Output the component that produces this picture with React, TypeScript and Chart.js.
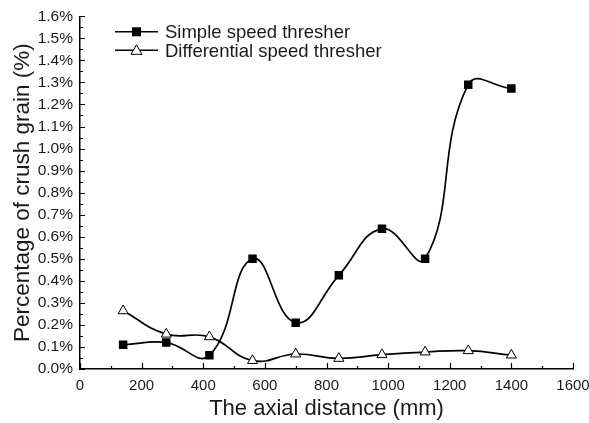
import React, { useEffect, useRef } from "react";
import { Chart, registerables } from "chart.js";

Chart.register(...registerables);

const distances = [140, 280, 420, 560, 700, 840, 980, 1120, 1260, 1400];
const simpleSpeed = [0.11, 0.12, 0.062, 0.5, 0.21, 0.425, 0.636, 0.5, 1.29, 1.272];
const differentialSpeed = [0.264, 0.158, 0.146, 0.038, 0.068, 0.048, 0.065, 0.077, 0.083, 0.063];
const seriesNames = ["Simple speed thresher", "Differential speed thresher"];
const xTitle = "The axial distance (mm)";
const yTitle = "Percentage of crush grain (%)";

const FONT = '"Liberation Sans", Arial, sans-serif';
const TEXT = "#1a1a1a";

const innerTicks = {
  id: "innerTicks",
  afterDraw(chart: any) {
    const ctx = chart.ctx;
    const xs = chart.scales.x;
    const ys = chart.scales.y;
    const area = chart.chartArea;
    ctx.save();
    ctx.strokeStyle = "#000";
    ctx.lineWidth = 1.2;
    ctx.beginPath();
    for (let v = 0; v <= 1600; v += 100) {
      const px = Math.round(xs.getPixelForValue(v)) + 0.5;
      const len = v % 200 === 0 ? 6 : 3;
      ctx.moveTo(px, area.bottom);
      ctx.lineTo(px, area.bottom - len);
    }
    for (let i = 0; i <= 32; i++) {
      const v = i * 0.05;
      const py = Math.round(ys.getPixelForValue(v)) + 0.5;
      const len = i % 2 === 0 ? 5 : 3;
      ctx.moveTo(area.left, py);
      ctx.lineTo(area.left + len, py);
    }
    ctx.stroke();
    ctx.restore();
  },
};

const lineLegend = {
  id: "lineLegend",
  afterDraw(chart: any) {
    const ctx = chart.ctx;
    const area = chart.chartArea;
    const x0 = area.left + 35;
    const x1 = area.left + 78;
    const rows = [area.top + 15.5, area.top + 34];
    ctx.save();
    ctx.font = "18.5px " + FONT;
    ctx.textBaseline = "middle";
    rows.forEach((y, i) => {
      ctx.strokeStyle = "#000";
      ctx.lineWidth = 1.5;
      ctx.beginPath();
      ctx.moveTo(x0, y);
      ctx.lineTo(x1, y);
      ctx.stroke();
      const cx = (x0 + x1) / 2;
      if (i === 0) {
        ctx.fillStyle = "#000";
        ctx.fillRect(cx - 4.5, y - 4.5, 9, 9);
      } else {
        ctx.fillStyle = "#fff";
        ctx.beginPath();
        ctx.moveTo(cx, y - 5.5);
        ctx.lineTo(cx + 5.5, y + 4);
        ctx.lineTo(cx - 5.5, y + 4);
        ctx.closePath();
        ctx.fill();
        ctx.lineWidth = 1;
        ctx.stroke();
      }
      ctx.fillStyle = TEXT;
      ctx.fillText(seriesNames[i], x1 + 7, y + 1.5);
    });
    ctx.restore();
  },
};

export default function App() {
  const ref = useRef<HTMLCanvasElement | null>(null);

  useEffect(() => {
    if (!ref.current) return;
    const chart = new Chart(ref.current, {
      type: "line",
      data: {
        datasets: [
          {
            label: seriesNames[0],
            data: distances.map((d, i) => ({ x: d, y: simpleSpeed[i] })),
            borderColor: "#000",
            backgroundColor: "#000",
            borderWidth: 1.7,
            pointStyle: "rect",
            pointRadius: 6,
            pointBorderWidth: 0,
            tension: 0.45,
          },
          {
            label: seriesNames[1],
            data: distances.map((d, i) => ({ x: d, y: differentialSpeed[i] })),
            borderColor: "#000",
            backgroundColor: "#fff",
            borderWidth: 1.7,
            pointStyle: "triangle",
            pointRadius: 5.8,
            pointBorderWidth: 1,
            tension: 0.45,
          },
        ],
      },
      options: {
        animation: false,
        responsive: true,
        maintainAspectRatio: false,
        layout: { padding: { top: 15, right: 0, left: 0, bottom: 0 } },
        plugins: {
          legend: { display: false },
          tooltip: { enabled: false },
        },
        scales: {
          x: {
            type: "linear",
            min: 0,
            max: 1600,
            grid: { display: false, drawTicks: false },
            border: { display: true, color: "#000", width: 1.5 },
            ticks: {
              stepSize: 200,
              padding: 8,
              color: TEXT,
              font: { family: FONT, size: 15 },
              maxRotation: 0,
              callback: (v: any) => String(v),
            },
            title: {
              display: true,
              text: xTitle,
              color: TEXT,
              font: { family: FONT, size: 22 },
              padding: { top: 0, bottom: 1 },
            },
            afterFit(scale: any) {
              scale.height = 54;
              scale.paddingRight = 16;
            },
          },
          y: {
            type: "linear",
            min: 0,
            max: 1.6,
            grid: { display: false, drawTicks: false },
            border: { display: true, color: "#000", width: 1.5 },
            ticks: {
              stepSize: 0.1,
              padding: 7,
              color: TEXT,
              font: { family: FONT, size: 15.5 },
              callback: (v: any) => Number(v).toFixed(1) + "%",
            },
            title: {
              display: true,
              text: yTitle,
              color: TEXT,
              font: { family: FONT, size: 22.5 },
              padding: { top: 9, bottom: 0 },
            },
            afterFit(scale: any) {
              scale.width = 80;
            },
          },
        },
      },
      plugins: [innerTicks, lineLegend],
    });
    return () => chart.destroy();
  }, []);

  return (
    <div style={{ position: "fixed", left: 0, top: 0, width: 589, height: 423, background: "#fff" }}>
      <canvas ref={ref} />
    </div>
  );
}
